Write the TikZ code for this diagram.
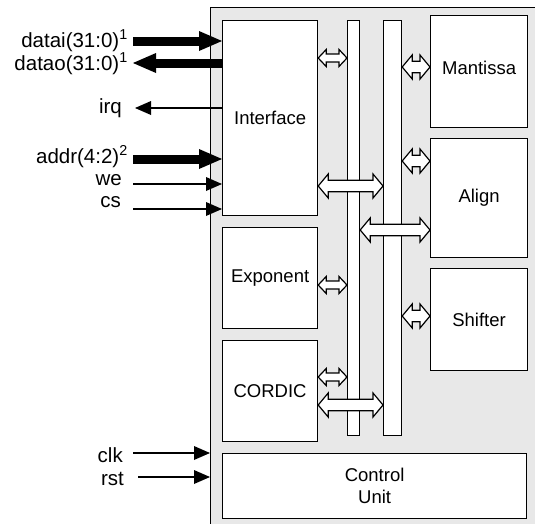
\documentclass[tikz,border=0pt]{standalone}
\usepackage{fontspec}
\setmainfont{Liberation Sans}
\usetikzlibrary{arrows.meta,calc}
\definecolor{fond}{RGB}{232,232,232}
% fleche double creuse entre un bloc et un bus
\newcommand{\busarrow}[5]{%
  \draw[busfleche] let \p1=#4, \p2=#5 in
    (\x1,\y1) -- (\x1+#3pt,\y1+#2pt) -- (\x1+#3pt,\y1+#1pt) -- (\x2-#3pt,\y1+#1pt)
    -- (\x2-#3pt,\y1+#2pt) -- (\x2,\y1) -- (\x2-#3pt,\y1-#2pt) -- (\x2-#3pt,\y1-#1pt)
    -- (\x1+#3pt,\y1-#1pt) -- (\x1+#3pt,\y1-#2pt) -- cycle;}
\newcommand{\petitbus}[2]{\busarrow{4}{8.5}{8}{#1}{#2}}
\newcommand{\grandbus}[2]{\busarrow{5.8}{12}{10}{#1}{#2}}
\begin{document}
\begin{tikzpicture}[x=1pt,y=-1pt,font=\fontsize{18.5}{22}\selectfont]
            \tikzstyle{bloc}=[draw,fill=white,line width=1.2pt,anchor=north west,inner sep=0pt,align=center]
            \tikzstyle{etiq}=[anchor=base east,inner sep=0pt,font=\fontsize{20.5}{24}\selectfont]
            \tikzstyle{busfleche}=[draw,fill=white,line width=1.2pt,line join=miter]
            \tikzset{fil/.style = {line width=2pt,-{Triangle[length=16pt,width=14pt,line width=0pt]}}}
            \tikzset{gros/.style = {line width=9pt,-{Triangle[length=23pt,width=20pt,line width=0pt]}}}
            \useasboundingbox (0,0) rectangle (535,523);
            \clip (0,0) rectangle (535,523);
            \node[bloc,fill=fond,minimum width=340pt,minimum height=530pt] (chip) at (210,7) {};
            \node[bloc,minimum width=95pt,minimum height=195pt] (iface) at (222,20) {Interface};
            \node[bloc,minimum width=95pt,minimum height=101pt] (expo) at (222,227) {Exponent};
            \node[bloc,minimum width=95pt,minimum height=101pt] (cordic) at (222,340) {CORDIC};
            \node[bloc,minimum width=304pt,minimum height=65pt] (ctrl) at (222,453) {Control\\Unit};
            \node[bloc,minimum width=12pt,minimum height=415pt] (bus1) at (347,20) {};
            \node[bloc,minimum width=18pt,minimum height=415pt] (bus2) at (383,20) {};
            \node[bloc,minimum width=97pt,minimum height=112pt,text depth=8pt] (mant) at (430,15) {Mantissa};
            \node[bloc,minimum width=97pt,minimum height=119pt] (align) at (430,138) {Align};
            \node[bloc,minimum width=97pt,minimum height=102pt] (shift) at (430,268) {Shifter};
            \petitbus{(iface.east |- 0,58)}{(bus1.west |- 0,58)}
            \grandbus{(bus2.east |- 0,67)}{(mant.west |- 0,67)}
            \grandbus{(bus2.east |- 0,161)}{(align.west |- 0,161)}
            \grandbus{(iface.east |- 0,186)}{(bus2.west |- 0,186)}
            \grandbus{(bus1.east |- 0,230)}{(align.west |- 0,230)}
            \petitbus{(expo.east |- 0,285)}{(bus1.west |- 0,285)}
            \grandbus{(bus2.east |- 0,316)}{(shift.west |- 0,316)}
            \petitbus{(cordic.east |- 0,377)}{(bus1.west |- 0,377)}
            \grandbus{(cordic.east |- 0,405)}{(bus2.west |- 0,405)}
            \node[etiq] (di) at (128,47) {datai(31:0)\textsuperscript{1}};
            \node[etiq] (do) at (128,70) {datao(31:0)\textsuperscript{1}};
            \node[etiq] (irq) at (122,113) {irq};
            \node[etiq] (addr) at (128,163) {addr(4:2)\textsuperscript{2}};
            \node[etiq] (we) at (122,185) {we};
            \node[etiq] (cs) at (121,207) {cs};
            \node[etiq] (clk) at (123,462) {clk};
            \node[etiq] (rst) at (124,485) {rst};
            \coordinate (diA) at (133,41);
            \coordinate (doA) at (133,63);
            \coordinate (irqA) at (135,108);
            \coordinate (addrA) at (133,159);
            \coordinate (weA) at (133,184);
            \coordinate (csA) at (133,209);
            \coordinate (clkA) at (133,453);
            \coordinate (rstA) at (138,477);
            \draw[gros] (diA) -- (diA -| iface.west);
            \draw[gros] (doA -| iface.west) -- (doA);
            \draw[fil] (irqA -| iface.west) -- (irqA);
            \draw[gros] (addrA) -- (addrA -| iface.west);
            \draw[fil] (weA) -- (weA -| iface.west);
            \draw[fil] (csA) -- (csA -| iface.west);
            \draw[fil] (clkA) -- (clkA -| chip.west);
            \draw[fil] (rstA) -- (rstA -| chip.west);
\end{tikzpicture}
\end{document}
